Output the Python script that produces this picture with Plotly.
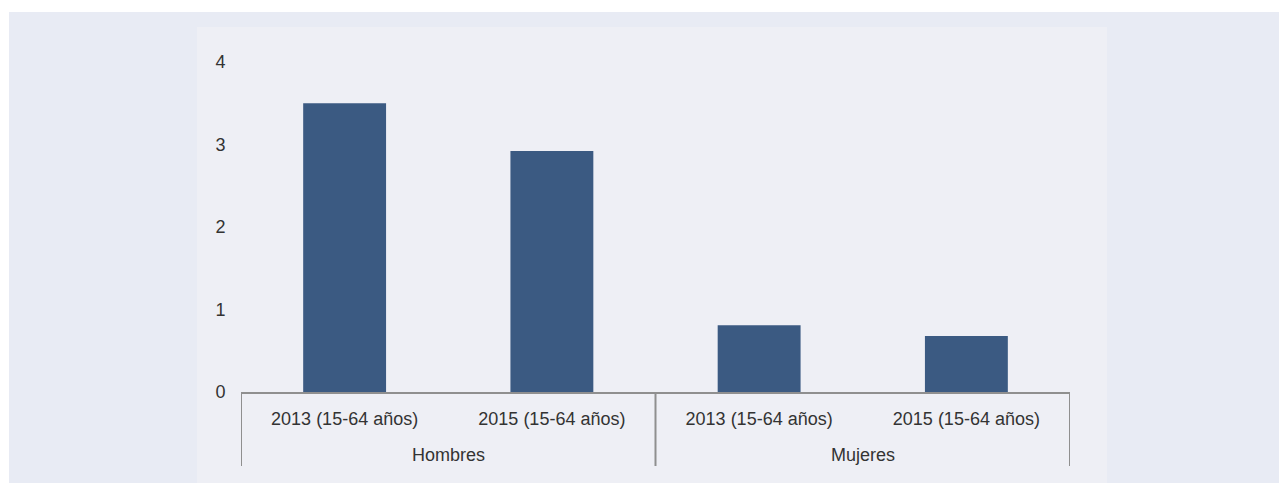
import plotly.graph_objects as go

# data
groups = ["Hombres", "Hombres", "Mujeres", "Mujeres"]
periods = ["2013 (15-64 años)", "2015 (15-64 años)", "2013 (15-64 años)", "2015 (15-64 años)"]
values = [3.5, 2.92, 0.81, 0.68]
y_ticks = [0, 1, 2, 3, 4]

W, H = 1279, 483
L, R, T, B = 241, 209, 62, 91
pw, ph = W - L - R, H - T - B


def px_x(x):
    # page pixel -> paper coordinate
    return (x - L) / pw


def px_y(y):
    return (H - B - y) / ph


idx = list(range(len(values)))
group_names = list(dict.fromkeys(groups))
group_mid = [sum(i for i, g in zip(idx, groups) if g == name) / groups.count(name) for name in group_names]
edges = [-0.5] + [i + 0.5 for i in range(len(groups) - 1) if groups[i] != groups[i + 1]] + [len(groups) - 0.5]

fig = go.Figure()
fig.add_trace(go.Bar(
    x=idx,
    y=values,
    marker=dict(color="#3b5a82", line=dict(width=0)),
    width=0.4,
))

fig.add_shape(type="rect", xref="paper", yref="paper", layer="below",
              x0=px_x(9), x1=px_x(1290), y0=px_y(490), y1=px_y(12),
              fillcolor="#e8ebf4", line=dict(width=0))
fig.add_shape(type="rect", xref="paper", yref="paper", layer="below",
              x0=px_x(197), x1=px_x(1107), y0=px_y(490), y1=px_y(27),
              fillcolor="#eeeff5", line=dict(width=0))

for e in edges:
    fig.add_shape(type="line", xref="x", yref="paper",
                  x0=e, x1=e, y0=0, y1=px_y(466),
                  line=dict(color="#8f8f8f", width=2))

for name, m in zip(group_names, group_mid):
    fig.add_annotation(x=m, y=px_y(455), xref="x", yref="paper",
                       text=name, showarrow=False, yanchor="middle",
                       font=dict(size=18, color="#333333"))

fig.update_layout(
    width=W,
    height=H,
    margin=dict(l=L, r=R, t=T, b=B),
    paper_bgcolor="white",
    plot_bgcolor="rgba(0,0,0,0)",
    showlegend=False,
    font=dict(family="Liberation Sans, Arial, sans-serif", size=18, color="#333333"),
    xaxis=dict(
        range=[-0.5, len(values) - 0.5],
        tickvals=idx,
        ticktext=periods,
        showline=True,
        linecolor="#8f8f8f",
        linewidth=2,
        showgrid=False,
        zeroline=False,
        ticks="outside",
        ticklen=9,
        tickcolor="rgba(0,0,0,0)",
        tickfont=dict(size=18, color="#333333"),
    ),
    yaxis=dict(
        range=[0, 4],
        tickvals=y_ticks,
        showgrid=False,
        zeroline=False,
        showline=False,
        ticks="outside",
        ticklen=11,
        tickcolor="rgba(0,0,0,0)",
        tickfont=dict(size=18, color="#333333"),
    ),
)

# drop the default body margin so the figure fills the window
fig.write_html(
    "out.html",
    config={"displayModeBar": False},
    post_script="document.body.style.margin='0';document.body.style.overflow='hidden';",
)
